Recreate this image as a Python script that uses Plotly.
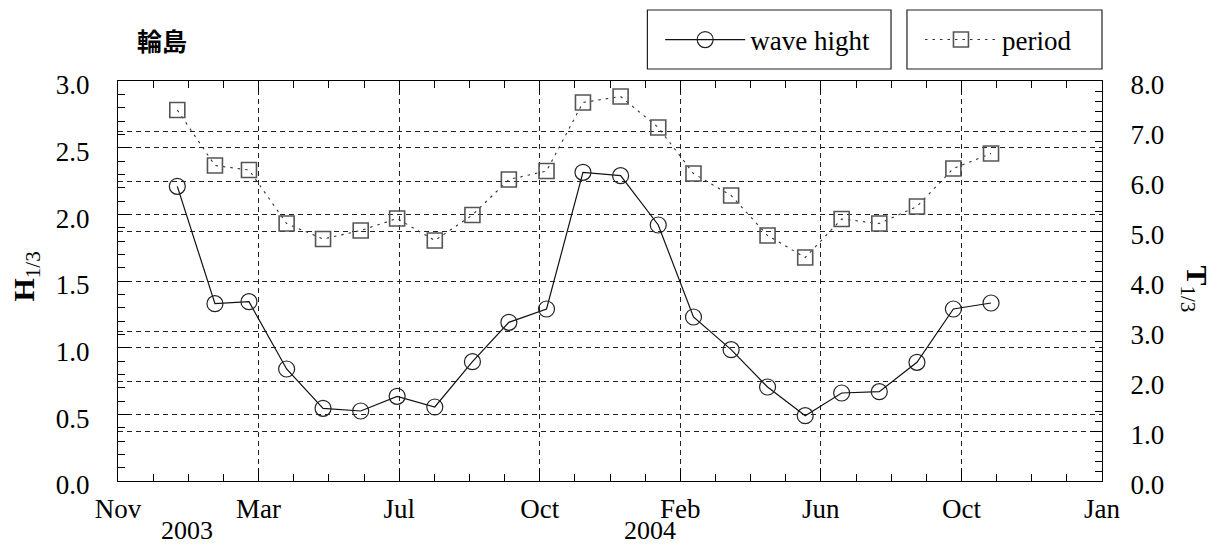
import pandas as pd
import plotly.graph_objects as go

# Monthly means at Wajima, Jan 2003 - Nov 2004
months = pd.date_range("2003-01-01", "2004-11-01", freq="MS")
wave_height = [2.21, 1.33, 1.345, 0.84, 0.545, 0.525, 0.635, 0.555, 0.895, 1.19, 1.29,
               2.315, 2.29, 1.92, 1.23, 0.985, 0.705, 0.49, 0.66, 0.67, 0.89, 1.29, 1.335]
period = [7.42, 6.31, 6.22, 5.15, 4.84, 5.01, 5.25, 4.81, 5.32, 6.03, 6.2,
          7.57, 7.69, 7.07, 6.15, 5.71, 4.91, 4.47, 5.24, 5.15, 5.49, 6.25, 6.55]

month_labels = ["Nov", "Mar", "Jul", "Oct", "Feb", "Jun", "Oct", "Jan"]
year_labels = ["2003", "2004"]
year_label_dates = ["2003-01-09", "2004-01-25"]
h_ticks = [0.0, 0.5, 1.0, 1.5, 2.0, 2.5, 3.0]
t_ticks = [0.0, 1.0, 2.0, 3.0, 4.0, 5.0, 6.0, 7.0, 8.0]

# time axis: 7 equal intervals between the range ends, 4 minor steps each
x_start = pd.Timestamp("2002-11-13 04:00")
x_end = x_start + pd.Timedelta(days=810.2)
step = (x_end - x_start) / 7
fmt = "%Y-%m-%d %H:%M:%S"
major_vals = [(x_start + k * step).strftime(fmt) for k in range(8)]
minor_vals = [(x_start + k * step / 4).strftime(fmt) for k in range(29)]

SERIF = "Liberation Serif, Times New Roman, serif"
FS = 27
GRID = dict(showgrid=True, gridcolor="#222", gridwidth=1, griddash="5px,4px")

fig = go.Figure()
fig.add_trace(go.Scatter(
    x=months, y=wave_height, name="wave hight", mode="lines+markers",
    line=dict(color="#111", width=1.2),
    marker=dict(symbol="circle-open", size=16, color="#222", line=dict(width=1.2)),
    legend="legend",
))
fig.add_trace(go.Scatter(
    x=months, y=period, name="period", mode="lines+markers", yaxis="y2",
    line=dict(color="#333", width=1.1, dash="2.5px,5px"),
    marker=dict(symbol="square-open", size=15, color="#555", line=dict(width=1.6)),
    legend="legend2",
))

fig.update_layout(
    width=1218, height=548, autosize=False,
    margin=dict(l=118, r=116, t=81, b=67),
    paper_bgcolor="white", plot_bgcolor="white",
    font=dict(family=SERIF, size=FS, color="black"),
    xaxis=dict(
        type="date", range=[major_vals[0], major_vals[-1]],
        tickmode="array", tickvals=major_vals, ticktext=month_labels,
        ticks="inside", ticklen=12, tickwidth=1, tickcolor="black",
        showline=True, linecolor="black", linewidth=1.2, mirror="ticks",
        zeroline=False, ticklabelstandoff=3,
        tickfont=dict(family=SERIF, size=FS, color="black"),
        minor=dict(tickmode="array", tickvals=minor_vals, ticks="inside",
                   ticklen=7, tickcolor="black", showgrid=False),
        **GRID,
    ),
    yaxis=dict(
        range=[0, 3], tickmode="array", tickvals=h_ticks, tickformat=".1f",
        ticks="inside", ticklen=12, tickcolor="black",
        showline=True, linecolor="black", linewidth=1.2, zeroline=False,
        ticklabelstandoff=22, ticklabelshift=4,
        tickfont=dict(family=SERIF, size=FS, color="black"),
        minor=dict(dtick=0.1, ticks="inside", ticklen=7, tickcolor="black", showgrid=False),
        **GRID,
    ),
    yaxis2=dict(
        range=[0, 8], overlaying="y", side="right",
        tickmode="array", tickvals=t_ticks, tickformat=".1f",
        ticks="inside", ticklen=12, tickcolor="black",
        showline=True, linecolor="black", linewidth=1.2, zeroline=False,
        ticklabelstandoff=22, ticklabelshift=4,
        tickfont=dict(family=SERIF, size=FS, color="black"),
        minor=dict(dtick=0.2, ticks="inside", ticklen=7, tickcolor="black", showgrid=False),
        **GRID,
    ),
    legend=dict(
        x=0.551, xanchor="left", y=1.1025, yanchor="middle",
        bgcolor="rgba(0,0,0,0)", borderwidth=0, itemwidth=80,
        font=dict(family=SERIF, size=FS, color="black"),
    ),
    legend2=dict(
        x=0.815, xanchor="left", y=1.1025, yanchor="middle",
        bgcolor="rgba(0,0,0,0)", borderwidth=0, itemwidth=72,
        font=dict(family=SERIF, size=FS, color="black"),
    ),
    showlegend=True,
)

# frames around the two legend entries
for x0, x1 in [(0.538, 0.7856), (0.8018, 1.0)]:
    fig.add_shape(type="rect", xref="paper", yref="paper",
                  x0=x0, x1=x1, y0=1.03, y1=1.1775,
                  line=dict(color="#222", width=1.2), fillcolor="rgba(0,0,0,0)")

# station name
fig.add_annotation(text="<b>輪島</b>", xref="paper", yref="paper", x=0.0447, y=1.1025,
                   showarrow=False, xanchor="center", yanchor="middle",
                   font=dict(family="Noto Sans CJK JP", size=25, color="black"))

# year labels under the time axis
for label, d in zip(year_labels, year_label_dates):
    fig.add_annotation(text=label, x=d, xref="x", yref="paper", y=-0.1225,
                       showarrow=False, xanchor="center", yanchor="middle", borderpad=0,
                       font=dict(family=SERIF, size=26, color="black"))

# axis titles
fig.add_annotation(text="<b>H</b><sub>1/3</sub>", xref="paper", yref="paper",
                   x=-0.094, y=0.51, textangle=-90, showarrow=False,
                   xanchor="center", yanchor="middle",
                   font=dict(family=SERIF, size=30, color="black"))
fig.add_annotation(text="<b>T</b><sub>1/3</sub>", xref="paper", yref="paper",
                   x=1.095, y=0.48, textangle=90, showarrow=False,
                   xanchor="center", yanchor="middle", borderpad=0,
                   font=dict(family=SERIF, size=30, color="black"))

fig.write_html("out.html")
